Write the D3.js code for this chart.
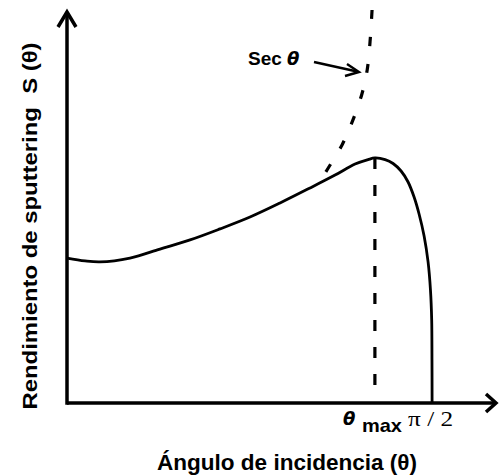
<!DOCTYPE html>
<html>
<head>
<meta charset="utf-8">
<script src="https://cdn.jsdelivr.net/npm/d3@7"></script>
<style>
  html, body { margin: 0; padding: 0; background: #fff; }
  svg { display: block; }
</style>
</head>
<body>
<svg id="chart" width="499" height="476"></svg>
<script>
// ---- data (angle in degrees, yield in arbitrary units) ----
const thetaDeg = [0, 4.44, 8.14, 15.53, 22.93, 30.33, 37.72, 45.12, 52.52, 59.92, 66.08, 71.01, 74.22, 75.9,
                  78.41, 80.38, 82.35, 84.08, 85.56, 86.79, 88.03, 89.01, 89.6, 89.9, 89.97, 90];
const yieldS   = [1.001, 0.981, 0.974, 1.001, 1.063, 1.126, 1.202, 1.284, 1.381, 1.485, 1.574, 1.650, 1.681, 1.692,
                  1.681, 1.654, 1.602, 1.526, 1.422, 1.305, 1.153, 0.974, 0.780, 0.573, 0.297, 0];
const secDeg = [62.9, 64.1, 67.8, 70.3, 72.7, 74.0, 74.7, 75.2];
const secS   = [1.554, 1.609, 1.782, 1.941, 2.134, 2.30, 2.493, 2.714];
const thetaMax = 75.9;
const tickValues = [thetaMax, 90];
const tickLabels = ["θ", "π / 2"];
const xTitle = "Ángulo de incidencia (θ)";
const yTitle = "Rendimiento de sputtering  S (θ)";
const secLabel = "Sec ";

const svg = d3.select("#chart");
const x = d3.scaleLinear().domain([0, 106]).range([67, 497]);
const y = d3.scaleLinear().domain([0, 2.7]).range([403, 12]);

const ink = "#000";

// axes
svg.append("line").attr("x1", x(0)).attr("x2", x(106) - 2).attr("y1", y(0)).attr("y2", y(0))
  .attr("stroke", ink).attr("stroke-width", 3.5);
svg.append("line").attr("x1", x(0)).attr("x2", x(0)).attr("y1", y(0) + 1.75).attr("y2", y(2.7) + 2)
  .attr("stroke", ink).attr("stroke-width", 3.5);
// arrowheads
svg.append("path")
  .attr("d", `M${x(0) - 9},${y(2.7) + 15} L${x(0)},${y(2.7)} L${x(0) + 9},${y(2.7) + 15}`)
  .attr("fill", "none").attr("stroke", ink).attr("stroke-width", 3.5).attr("stroke-linejoin", "miter");
svg.append("path")
  .attr("d", `M${x(106) - 11},${y(0) - 9} L${x(106) - 1},${y(0)} L${x(106) - 11},${y(0) + 9}`)
  .attr("fill", "none").attr("stroke", ink).attr("stroke-width", 3.5).attr("stroke-linejoin", "miter");

// solid yield curve
const pts = thetaDeg.map((d, i) => [d, yieldS[i]]);
const line = d3.line().x(d => x(d[0])).y(d => y(d[1])).curve(d3.curveCatmullRom.alpha(0.5));
svg.append("path").attr("d", line(pts)).attr("fill", "none")
  .attr("stroke", ink).attr("stroke-width", 2.8).attr("stroke-linejoin", "round");

// sec theta dashed curve
const spts = secDeg.map((d, i) => [d, secS[i]]);
svg.append("path").attr("d", line(spts.slice().reverse())).attr("fill", "none")
  .attr("stroke", ink).attr("stroke-width", 3.2).attr("stroke-dasharray", "9,18");

// theta max dashed vertical
const peak = yieldS[thetaDeg.indexOf(thetaMax)];
svg.append("line").attr("x1", x(thetaMax)).attr("x2", x(thetaMax))
  .attr("y1", y(peak)).attr("y2", y(0) - 4)
  .attr("stroke", ink).attr("stroke-width", 3.2).attr("stroke-dasharray", "11,16");

// tick labels
svg.append("text").attr("x", x(tickValues[0]) - 32).attr("y", 425)
  .attr("font-family", "'DejaVu Sans', sans-serif").attr("font-size", 18)
  .attr("font-style", "italic").attr("font-weight", "bold").attr("fill", ink)
  .text(tickLabels[0]);
svg.append("text").attr("x", x(tickValues[0]) - 13).attr("y", 432)
  .attr("font-family", "'Liberation Sans', Arial, sans-serif").attr("font-size", 19)
  .attr("font-weight", "bold").attr("fill", ink).attr("textLength", 40).attr("lengthAdjust", "spacingAndGlyphs")
  .text("max");
svg.append("text").attr("x", x(tickValues[1]) - 24).attr("y", 426)
  .attr("font-family", "'Liberation Serif', 'DejaVu Serif', serif").attr("font-size", 21)
  .attr("fill", ink).attr("textLength", 45).attr("lengthAdjust", "spacingAndGlyphs")
  .text(tickLabels[1]);

// Sec theta annotation
const st = svg.append("text").attr("x", 248).attr("y", 65)
  .attr("font-family", "'Liberation Sans', Arial, sans-serif").attr("font-size", 19)
  .attr("font-weight", "bold").attr("fill", ink);
st.append("tspan").text(secLabel);
st.append("tspan").attr("font-family", "'DejaVu Sans', sans-serif")
  .attr("font-style", "italic").attr("font-size", 18).text("θ");
svg.append("line").attr("x1", 314).attr("y1", 62).attr("x2", 357).attr("y2", 71.5)
  .attr("stroke", ink).attr("stroke-width", 2.4);
svg.append("path").attr("d", "M347,64 L359,72 L345,76")
  .attr("fill", "none").attr("stroke", ink).attr("stroke-width", 2.4);

// axis titles
svg.append("text").attr("x", 287).attr("y", 470).attr("text-anchor", "middle")
  .attr("font-family", "'Liberation Sans', Arial, sans-serif").attr("font-size", 22)
  .attr("font-weight", "bold").attr("fill", ink)
  .attr("textLength", 260).attr("lengthAdjust", "spacingAndGlyphs")
  .text(xTitle);
svg.append("text").attr("transform", "translate(37,226) rotate(-90)").attr("text-anchor", "middle")
  .attr("font-family", "'Liberation Sans', Arial, sans-serif").attr("font-size", 21)
  .attr("font-weight", "bold").attr("fill", ink)
  .attr("textLength", 367).attr("lengthAdjust", "spacingAndGlyphs")
  .style("white-space", "pre")
  .text(yTitle);
</script>
</body>
</html>
